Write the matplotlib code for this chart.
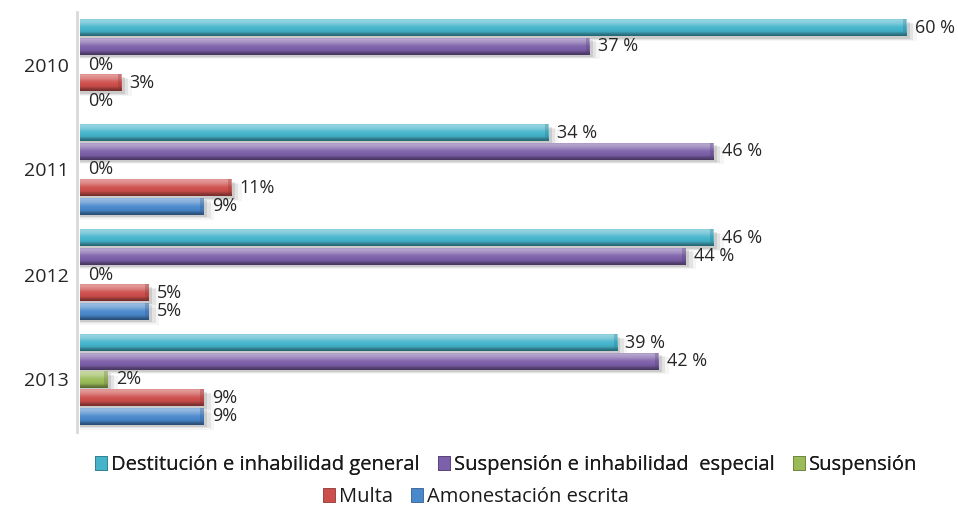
import numpy as np
import matplotlib
matplotlib.use("Agg")
import matplotlib.pyplot as plt
from matplotlib.patches import Rectangle
from matplotlib.colors import to_rgb

plt.rcParams['font.family'] = ['Open Sans', 'DejaVu Sans']

years = ["2010", "2011", "2012", "2013"]
series = [
    "Destitución e inhabilidad general",
    "Suspensión e inhabilidad  especial",
    "Suspensión",
    "Multa",
    "Amonestación escrita",
]
destitucion = [60, 34, 46, 39]
suspension_inhab = [37, 46, 44, 42]
suspension = [0, 0, 0, 2]
multa = [3, 11, 5, 9]
amonestacion = [0, 9, 5, 9]
values = [destitucion, suspension_inhab, suspension, multa, amonestacion]
label_fmt = ["{} %", "{} %", "{}%", "{}%", "{}%"]
colors = ["#45b4cb", "#7c60a9", "#9bbb59", "#cd4f4c", "#4a88cc"]
text_color = "#262626"

fig = plt.figure(figsize=(9.58, 5.08), dpi=100)
ax = fig.add_axes([80 / 958, 1 - 432 / 508, 878 / 958, 420 / 508])

slot = 0.175
bar_h = 0.162


def shade(rgb, f):
    rgb = np.array(rgb)
    if f >= 0:
        return rgb + (1 - rgb) * f
    return rgb * (1 + f)


def gradient_for(color, n=64):
    base = np.array(to_rgb(color))
    t = np.linspace(0, 1, n)
    # light top highlight, body, darker lower rim
    f = np.interp(t, [0.0, 0.1, 0.3, 0.5, 0.75, 0.88, 1.0],
                  [0.2, 0.45, 0.3, 0.05, -0.05, -0.3, -0.45])
    rows = np.array([shade(base, v) for v in f])
    return np.clip(rows, 0, 1).reshape(n, 1, 3)


def draw_bar(y, w, color):
    if w <= 0:
        return
    y0, y1 = y - bar_h / 2, y + bar_h / 2
    # soft drop shadow
    for k, a in enumerate([0.10, 0.07, 0.04]):
        d = 0.012 * (k + 1)
        ax.add_patch(Rectangle((0, y0 + d + 0.01), w + 0.25 * (k + 1), bar_h,
                               facecolor="black", edgecolor="none", alpha=a,
                               zorder=1))
    patch = Rectangle((0, y0), w, bar_h, facecolor=color, edgecolor="none",
                      zorder=2)
    ax.add_patch(patch)
    im = ax.imshow(gradient_for(color), extent=(0, w, y1, y0), origin="upper",
                   aspect="auto", interpolation="bilinear", zorder=3)
    im.set_clip_path(patch)
    # subtle bevel at the bar end
    end_w = min(0.25, w * 0.3)
    ax.add_patch(Rectangle((w - end_w, y0), end_w, bar_h,
                           facecolor=shade(to_rgb(color), -0.35), edgecolor="none",
                           alpha=0.3, zorder=4))


for gi, year in enumerate(years):
    for si in range(len(series)):
        y = gi + (si - 2) * slot
        v = values[si][gi]
        draw_bar(y, v, colors[si])
        ax.annotate(label_fmt[si].format(v), xy=(v, y), xytext=(6, 0),
                    textcoords="offset points", va="center", ha="left",
                    fontsize=13, color=text_color, annotation_clip=False,
                    zorder=6)

ax.set_xlim(0, 878 / 13.77)
ax.set_ylim(3.5, -0.5)
ax.set_yticks(range(len(years)))
ax.set_yticklabels(years)
ax.tick_params(axis="y", length=0, pad=6, labelsize=14, labelcolor=text_color)
ax.set_xticks([])
for s in ["top", "right", "bottom"]:
    ax.spines[s].set_visible(False)
ax.spines["left"].set_color("#d9d9d9")
ax.spines["left"].set_linewidth(2)
ax.spines["left"].set_position(("outward", 2))

# legend in two centred rows
handles = [Rectangle((0, 0), 1, 1, facecolor=c, edgecolor=shade(to_rgb(c), -0.3),
                     linewidth=0.6) for c in colors]
leg_kw = dict(frameon=False, fontsize=14.5, handlelength=0.6, handleheight=0.75,
              handletextpad=0.2, columnspacing=0.9, borderaxespad=0,
              labelcolor="#1a1a1a")
leg1 = fig.legend(handles[:3], series[:3], loc="center", ncol=3,
                  bbox_to_anchor=(0.528, 1 - 465 / 508), **leg_kw)
fig.add_artist(leg1)
fig.legend(handles[3:], series[3:], loc="center", ncol=2,
           bbox_to_anchor=(0.497, 1 - 497 / 508), **leg_kw)

fig.savefig("out.png", dpi=100)
